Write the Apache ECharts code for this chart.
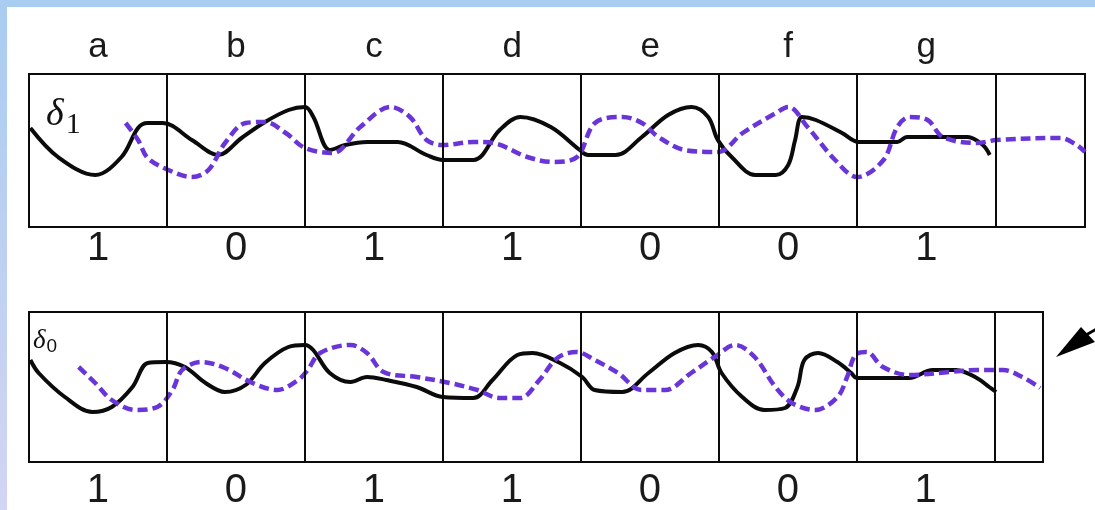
<!DOCTYPE html>
<html>
<head>
<meta charset="utf-8">
<script src="https://cdn.jsdelivr.net/npm/echarts@6/dist/echarts.min.js"></script>
<style>
html,body{margin:0;padding:0;background:#fff;}
#main{width:1095px;height:510px;}
</style>
</head>
<body>
<div id="main"></div>
<script>
// cell letters (top) and bit values (below each panel)
var letters = ['a','b','c','d','e','f','g'];
var bitsTop = ['1','0','1','1','0','0','1'];
var bitsBottom = ['1','0','1','1','0','0','1'];
// cell boundaries in bit periods
var boundaries = [1,2,3,4,5,6,7];
var topEnd = 7.65;
var bottomEnd = 7.35;

// δ1 panel: solid (black) and dashed (purple) waveforms [time, amplitude]
var topSolid = [
 [0.01,0.45],[0.21,-0.13],[0.48,-0.49],[0.67,-0.13],[0.79,0.45],[0.86,0.55],[0.97,0.55],
 [1.18,0.21],[1.37,-0.09],[1.54,0.25],[1.71,0.57],[1.88,0.81],[2.0,0.87],[2.06,0.67],
 [2.18,0.01],[2.29,0.11],[2.45,0.17],[2.67,0.17],[2.88,-0.09],[3.0,-0.19],[3.22,-0.19],
 [3.41,0.41],[3.56,0.67],[3.78,0.47],[3.99,0.01],[4.05,-0.09],[4.25,-0.09],[4.44,0.27],
 [4.63,0.71],[4.80,0.87],[4.92,0.67],[4.99,0.21],[5.09,-0.13],[5.26,-0.49],[5.41,-0.49],
 [5.50,-0.29],[5.55,0.21],[5.60,0.67],[5.70,0.61],[5.89,0.35],[6.01,0.17],[6.29,0.17],
 [6.36,0.27],[6.80,0.27],[6.91,0.11],[6.96,-0.09]
];
var topDashed = [
 [0.70,0.55],[0.79,0.21],[0.86,-0.15],[1.01,-0.39],[1.18,-0.53],[1.30,-0.39],[1.42,0.15],
 [1.57,0.55],[1.71,0.57],[1.86,0.35],[2.0,0.05],[2.20,-0.05],[2.40,0.47],[2.62,0.87],
 [2.76,0.67],[2.88,0.21],[3.0,0.11],[3.22,0.17],[3.36,0.15],[3.61,-0.13],[3.80,-0.23],
 [3.97,-0.13],[4.10,0.55],[4.30,0.67],[4.44,0.55],[4.56,0.27],[4.75,0.01],[4.99,-0.03],
 [5.17,0.35],[5.41,0.75],[5.50,0.87],[5.64,0.47],[5.84,-0.19],[6.0,-0.53],[6.19,-0.19],
 [6.29,0.47],[6.38,0.67],[6.51,0.61],[6.62,0.27],[6.87,0.15],[7.01,0.21],[7.47,0.25],
 [7.59,0.11],[7.65,-0.03]
];
// δ0 panel
var bottomSolid = [
 [0.01,0.54],[0.07,0.28],[0.26,-0.20],[0.46,-0.50],[0.60,-0.40],[0.75,0.0],[0.86,0.48],
 [0.99,0.50],[1.13,0.40],[1.28,0.08],[1.42,-0.10],[1.57,0.04],[1.71,0.48],[1.88,0.80],
 [2.0,0.84],[2.06,0.74],[2.18,0.28],[2.33,0.10],[2.45,0.20],[2.59,0.14],[2.81,0.0],
 [3.0,-0.20],[3.22,-0.22],[3.36,0.14],[3.54,0.64],[3.65,0.68],[3.85,0.48],[4.01,0.20],
 [4.10,-0.06],[4.30,-0.10],[4.49,0.28],[4.68,0.68],[4.85,0.84],[4.95,0.70],[5.02,0.28],
 [5.17,-0.20],[5.33,-0.46],[5.48,-0.42],[5.57,0.0],[5.62,0.54],[5.72,0.68],[5.86,0.50],
 [5.96,0.28],[6.0,0.18],[6.38,0.18],[6.55,0.34],[6.72,0.34],[6.87,0.18],[6.96,0.0],[7.01,-0.10]
];
var bottomDashed = [
 [0.36,0.40],[0.48,0.08],[0.60,-0.26],[0.77,-0.46],[0.93,-0.40],[1.04,-0.06],[1.11,0.34],
 [1.25,0.50],[1.42,0.38],[1.62,0.08],[1.80,-0.06],[1.95,0.14],[2.02,0.34],[2.11,0.68],
 [2.33,0.84],[2.45,0.68],[2.57,0.30],[2.81,0.20],[3.05,0.08],[3.25,-0.06],[3.41,-0.22],
 [3.56,-0.22],[3.70,0.14],[3.83,0.58],[3.97,0.70],[4.10,0.54],[4.27,0.28],[4.44,-0.06],
 [4.61,-0.06],[4.80,0.28],[4.97,0.60],[5.12,0.84],[5.26,0.60],[5.41,0.0],[5.53,-0.32],
 [5.70,-0.46],[5.86,-0.20],[5.93,0.20],[5.99,0.64],[6.07,0.70],[6.19,0.40],[6.38,0.24],
 [6.67,0.30],[6.87,0.34],[7.06,0.34],[7.20,0.20],[7.33,-0.02]
];

var BLACK = '#0b0b0b';
var PURPLE = '#6a35d8';
var LABEL_FONT = 'Liberation Sans, Arial, sans-serif';

function halfLabel(arr){
  return function(v){
    var f = v - Math.floor(v);
    if (Math.abs(f - 0.5) < 1e-6) { var s = arr[Math.floor(v)]; return s === undefined ? '' : s; }
    return '';
  };
}
function xAx(grid, end, pos, arr, margin, size){
  return {
    type:'value', gridIndex:grid, min:0, max:end, interval:0.5, position:pos,
    axisLine:{show:false}, axisTick:{show:false}, splitLine:{show:false},
    axisLabel:{show:true, formatter:halfLabel(arr), fontSize:size, color:'#1a1a1a',
      fontFamily:LABEL_FONT, margin:margin, showMinLabel:true, showMaxLabel:true, hideOverlap:false}
  };
}
function dividers(){
  return {
    silent:true, symbol:['none','none'], label:{show:false},
    lineStyle:{color:BLACK, width:2, type:'solid'},
    data: boundaries.map(function(b){ return {xAxis:b}; })
  };
}
function solid(name, data, xi, yi, withDiv){
  var s = {name:name, type:'line', xAxisIndex:xi, yAxisIndex:yi, data:data, smooth:0.35,
    symbol:'none', lineStyle:{color:BLACK, width:4}, z:3, animation:false};
  if (withDiv) s.markLine = dividers();
  return s;
}
function dashed(name, data, xi, yi){
  return {name:name, type:'line', xAxisIndex:xi, yAxisIndex:yi, data:data, smooth:0.35,
    symbol:'none', lineStyle:{color:PURPLE, width:4.5, type:[10,5]}, z:4, animation:false};
}

var chart = echarts.init(document.getElementById('main'));
chart.setOption({
  animation:false,
  backgroundColor:'#ffffff',
  grid:[
    {left:29, top:74, width:1056, height:153, show:true, borderColor:BLACK, borderWidth:2,
     backgroundColor:'transparent', containLabel:false, outerBoundsMode:'none'},
    {left:29, top:312, width:1014, height:150, show:true, borderColor:BLACK, borderWidth:2,
     backgroundColor:'transparent', containLabel:false, outerBoundsMode:'none'}
  ],
  xAxis:[
    xAx(0, topEnd, 'bottom', bitsTop, 2, 40),
    xAx(0, topEnd, 'top', letters, 9, 35),
    xAx(1, bottomEnd, 'bottom', bitsBottom, 9, 40)
  ],
  yAxis:[
    {type:'value', gridIndex:0, min:-1.53, max:1.53, show:false},
    {type:'value', gridIndex:1, min:-1.5, max:1.5, show:false}
  ],
  series:[
    solid('δ1 solid', topSolid, 0, 0, true),
    dashed('δ1 dashed', topDashed, 0, 0),
    solid('δ0 solid', bottomSolid, 2, 1, true),
    dashed('δ0 dashed', bottomDashed, 2, 1)
  ],
  graphic:[
    {type:'rect', shape:{x:0,y:0,width:1095,height:7}, style:{fill:'#a9ccf1'}, z:-1, silent:true},
    {type:'rect', shape:{x:0,y:0,width:7,height:510}, silent:true, z:-1,
      style:{fill:new echarts.graphic.LinearGradient(0,0,0,1,[{offset:0,color:'#a9ccf1'},{offset:1,color:'#d3d5f4'}])}},
    {type:'text', left:46, top:96, z:10, silent:true,
      style:{text:'{d|δ}{s|1}', rich:{
        d:{fontFamily:'Liberation Serif, DejaVu Serif, serif', fontStyle:'italic', fontSize:38, fill:'#111'},
        s:{fontFamily:'Liberation Serif, DejaVu Serif, serif', fontSize:30, fill:'#111', padding:[20,0,0,2]}
      }}},
    {type:'text', left:33, top:327, z:10, silent:true,
      style:{text:'{d|δ}{s|0}', rich:{
        d:{fontFamily:'Liberation Serif, DejaVu Serif, serif', fontStyle:'italic', fontSize:27, fill:'#111'},
        s:{fontFamily:'Liberation Sans, sans-serif', fontSize:19, fill:'#111', padding:[12,0,0,1]}
      }}},
    {type:'polygon', silent:true, z:10, shape:{points:[[1056,357],[1081,327],[1095,342]]}, style:{fill:'#000'}},
    {type:'line', silent:true, z:10, shape:{x1:1086,y1:335,x2:1100,y2:327}, style:{stroke:'#000', lineWidth:3}}
  ]
});
</script>
</body>
</html>
